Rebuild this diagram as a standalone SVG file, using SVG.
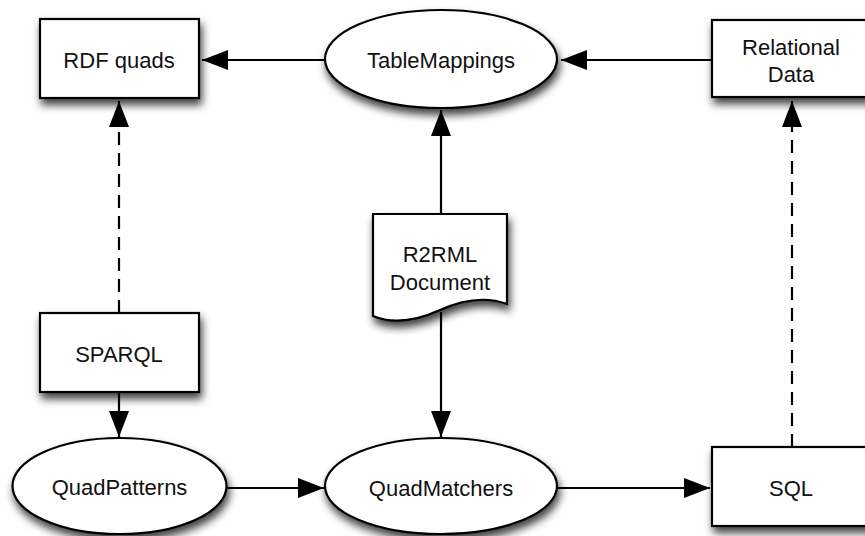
<svg xmlns="http://www.w3.org/2000/svg" width="865" height="536" viewBox="0 0 865 536">
<defs>
<filter id="sh" x="-20%" y="-20%" width="150%" height="160%">
<feDropShadow dx="2" dy="6" stdDeviation="4" flood-color="#000" flood-opacity="0.75"/>
</filter>
<marker id="ah" markerWidth="26" markerHeight="20" refX="26" refY="10" orient="auto" markerUnits="userSpaceOnUse">
<path d="M0,0 L26,10 L0,20 Z" fill="#000"/>
</marker>
<style>
.shape{fill:#fff;stroke:#000;stroke-width:2.2;filter:url(#sh)}
.lbl{font-family:"Liberation Sans",Arial,sans-serif;font-size:22px;fill:#111;text-anchor:middle}
.con{stroke:#000;stroke-width:2.2;fill:none;marker-end:url(#ah)}
.dash{stroke-dasharray:13 8}
</style>
</defs>
<rect width="865" height="536" fill="#fff"/>
<g id="connectors">
<line class="con" x1="325" y1="60" x2="202" y2="60"/>
<line class="con" x1="712" y1="60" x2="561" y2="60"/>
<line class="con" x1="441" y1="214" x2="441" y2="110"/>
<line class="con" x1="441" y1="312" x2="441" y2="437"/>
<line class="con dash" x1="119" y1="313" x2="119" y2="101"/>
<line class="con dash" x1="792" y1="447" x2="792" y2="101"/>
<line class="con" x1="119" y1="392" x2="119" y2="437"/>
<line class="con" x1="227" y1="488" x2="324" y2="488"/>
<line class="con" x1="557" y1="488" x2="710" y2="488"/>
</g>
<g id="rdfquads">
<rect class="shape" x="40" y="19" width="159" height="79"/>
<text class="lbl" x="119" y="68">RDF quads</text>
</g>
<g id="tablemappings">
<ellipse class="shape" cx="441" cy="59" rx="116" ry="49"/>
<text class="lbl" x="441" y="68">TableMappings</text>
</g>
<g id="relationaldata">
<rect class="shape" x="712" y="20" width="159" height="77"/>
<text class="lbl" x="791" y="55">Relational</text>
<text class="lbl" x="791" y="82">Data</text>
</g>
<g id="r2rml">
<path class="shape" d="M373,214 H507 V304 C485,296 462,300 440,310 C418,320 395,325 373,316 Z"/>
<text class="lbl" x="440" y="262">R2RML</text>
<text class="lbl" x="440" y="290">Document</text>
</g>
<g id="sparql">
<rect class="shape" x="40" y="313" width="159" height="79"/>
<text class="lbl" x="119" y="362">SPARQL</text>
</g>
<g id="quadpatterns">
<ellipse class="shape" cx="119.5" cy="486" rx="107" ry="48"/>
<text class="lbl" x="119.5" y="495">QuadPatterns</text>
</g>
<g id="quadmatchers">
<ellipse class="shape" cx="441" cy="486" rx="116" ry="48"/>
<text class="lbl" x="441" y="496">QuadMatchers</text>
</g>
<g id="sql">
<rect class="shape" x="712" y="447" width="159" height="79"/>
<text class="lbl" x="791" y="496">SQL</text>
</g>
</svg>
